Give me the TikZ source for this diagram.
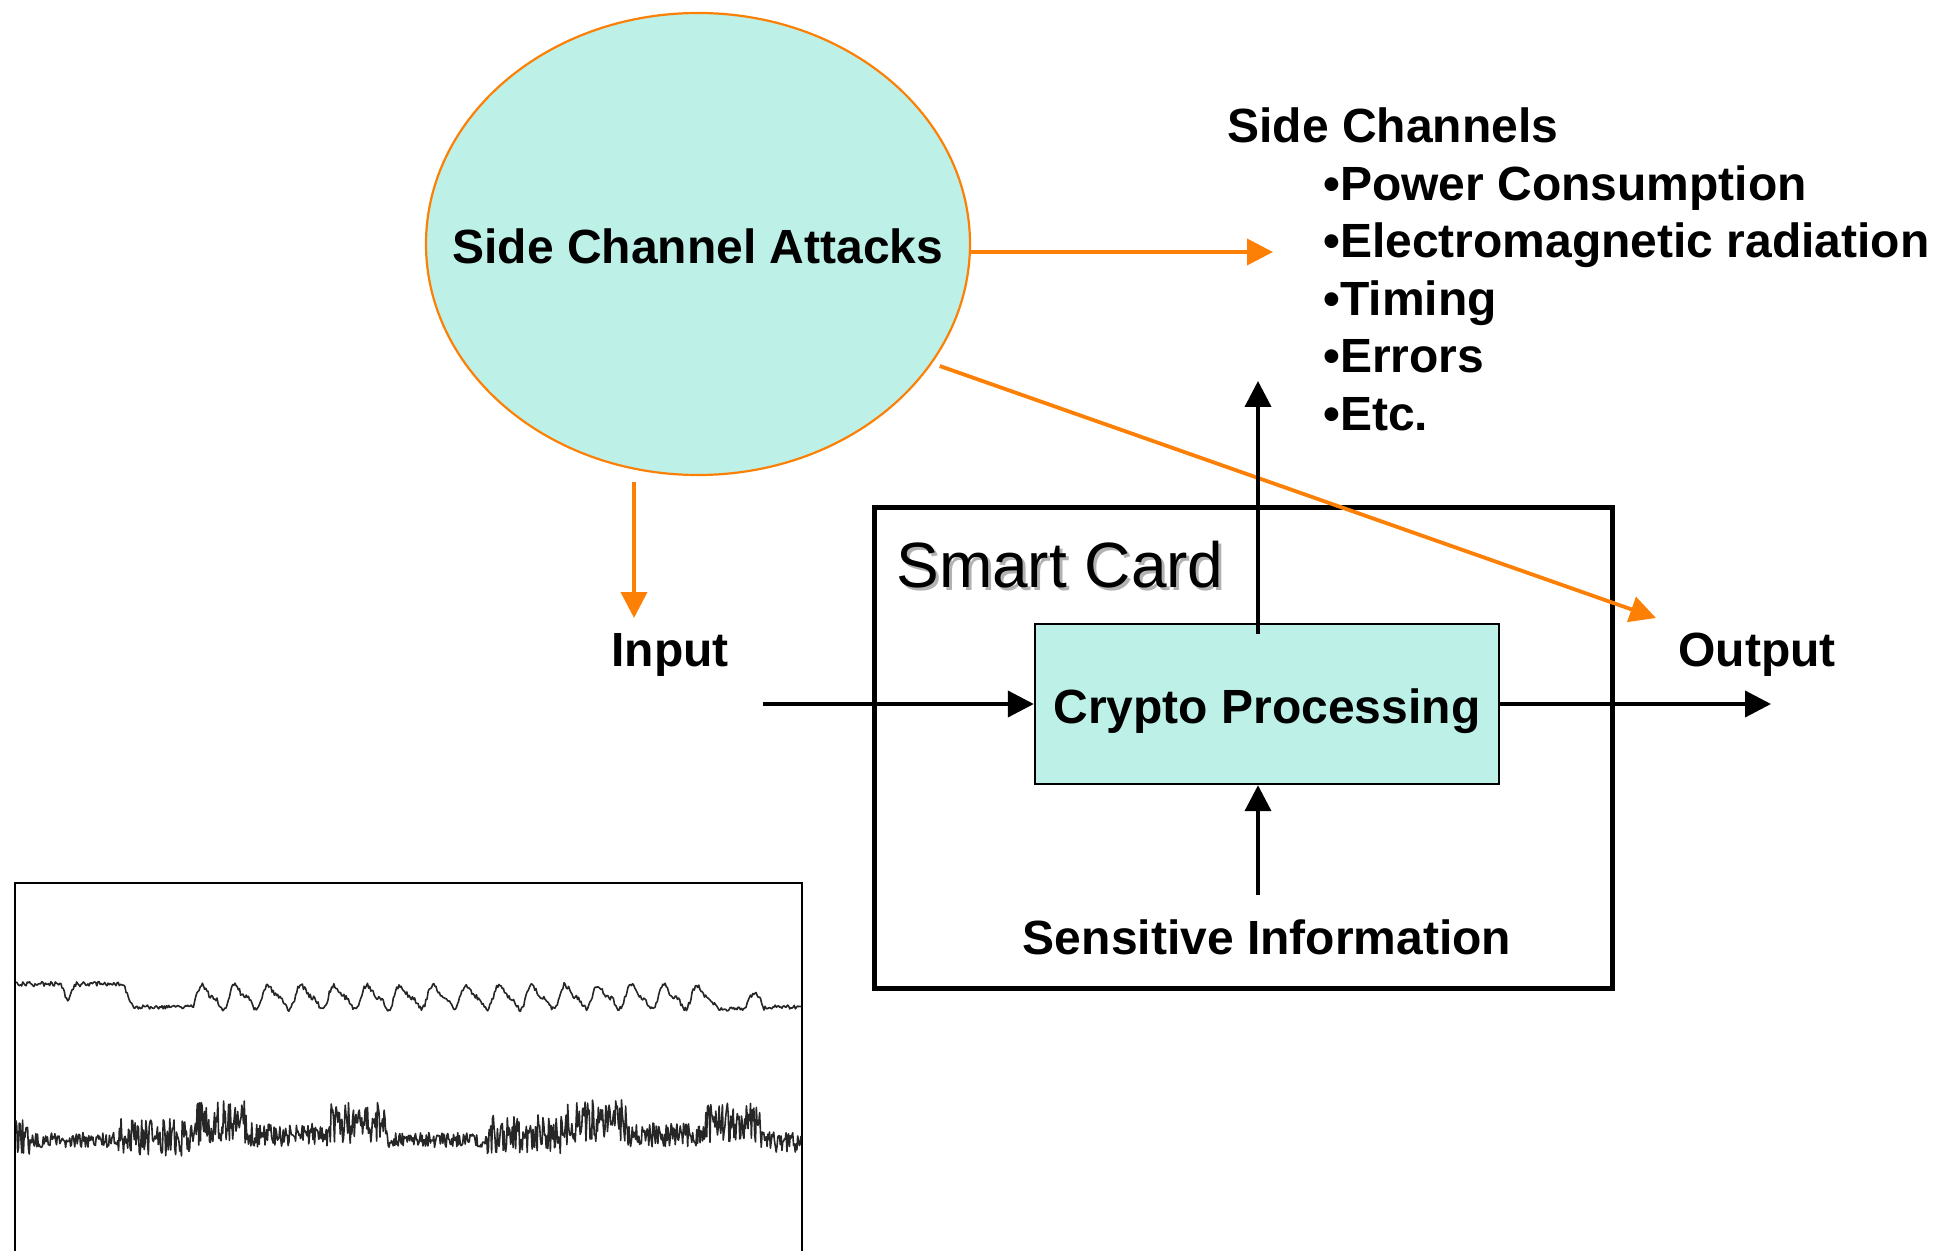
\documentclass[tikz,border=0pt]{standalone}
\usepackage{fontspec}
\setmainfont{Liberation Sans}
\usetikzlibrary{arrows.meta,shapes.geometric,calc}
\definecolor{attackorange}{HTML}{FC8005}
\definecolor{mint}{HTML}{BDF1E8}
\begin{document}
\begin{tikzpicture}[x=0.5pt,y=-0.5pt,
  lbl/.style={font=\fontsize{24}{29}\selectfont\bfseries, inner sep=0pt},
  blackarrow/.style={line width=2pt, -{Triangle[length=13pt,width=13pt]}},
  orangearrow/.style={draw=attackorange, line width=1.9pt,
    -{Triangle[length=13pt,width=13pt]}, attackorange},
  trace/.style={line width=0.8pt, black!85, line join=round},
  declare function={
    topw(\x) = (\x<123) ? (984 + 2.5*rand + 18*exp(-(((min(max(\x,50),86)-68)/4)^2)))
      : ((\x<133) ? (984 + 2.3*(\x-123) + 2*rand)
      : ((\x<192) ? (1007 + 2*rand)
      : ((\x<717) ? (997 - 10*sin((\x-192)*10.909 - 45) - 4*sin((\x-192)*21.818 - 90) + 2.5*rand)
      : ((\x<745) ? (1009 + 1.8*rand)
      : ((\x<764) ? (1008 - 15*sin((\x-745)*9.47) + 2.5*rand)
      : (1007 + 2*rand))))));
    bamp(\x) = (\x<30) ? 14 : ((\x<117) ? 5 : ((\x<197) ? 13 : ((\x<250) ? 15
      : ((\x<330) ? 8 : ((\x<387) ? 14 : ((\x<487) ? 5 : ((\x<567) ? 13
      : ((\x<627) ? 14 : ((\x<705) ? 8 : ((\x<760) ? 14 : 7))))))))));
    bcen(\x) = (\x<30) ? 1135 : ((\x<117) ? 1140 : ((\x<197) ? 1137 : ((\x<250) ? 1123
      : ((\x<330) ? 1135 : ((\x<387) ? 1123 : ((\x<487) ? 1140
      : ((\x<567) ? 1134 : ((\x<627) ? 1121 : ((\x<705) ? 1135
      : ((\x<760) ? 1123 : 1142))))))))));
  }]
\useasboundingbox (0,0) rectangle (1938,1251);

% attack ellipse and its title
\node[ellipse, draw=attackorange, line width=1.1pt, fill=mint, inner sep=0pt,
  minimum width=272pt, minimum height=231pt] (sca) at (698,244) {};
\node[lbl, anchor=base] (scalbl) at (698,264) {Side Channel Attacks};

% smart card with the crypto block
\node[draw, line width=2.5pt, minimum width=369pt, minimum height=240.5pt, inner sep=0pt]
  (card) at (1243,747.5) {};
\node[font=\fontsize{32}{38}\selectfont, anchor=base west, inner sep=0pt, text=black!30]
  at (899,590) {Smart Card};
\node[font=\fontsize{32}{38}\selectfont, anchor=base west, inner sep=0pt]
  (cardlbl) at (896,587) {Smart Card};
\node[draw, line width=1.2pt, fill=mint, minimum width=232pt, minimum height=80pt,
  inner sep=0pt] (crypto) at (1267,704) {};
\node[lbl, anchor=base] (cryptolbl) at (1267,723) {Crypto Processing};

% labels
\node[lbl, anchor=base] (input) at (670,666) {Input};
\node[lbl, anchor=base] (output) at (1757,666) {Output};
\node[lbl, anchor=base] (sens) at (1267,954) {Sensitive Information};

\node[lbl, anchor=base west] (chan0) at (1227,143) {Side Channels};
\node[lbl, anchor=base west] (chan1) at (1323,200.5) {•Power Consumption};
\node[lbl, anchor=base west] (chan2) at (1323,258) {•Electromagnetic radiation};
\node[lbl, anchor=base west] (chan3) at (1323,315.5) {•Timing};
\node[lbl, anchor=base west] (chan4) at (1323,373) {•Errors};
\node[lbl, anchor=base west] (chan5) at (1323,430.5) {•Etc.};

% connector end points
\coordinate (chanTip) at (1273,252);
\coordinate (inTip) at (634,618);
\coordinate (outTip) at (1656,618);
\coordinate (inStart) at (763,704);
\coordinate (outEnd) at (1771,704);
\coordinate (upTip) at (1258,381);
\coordinate (sensStart) at (1258,895);

% orange attack arrows
\draw[orangearrow] (sca.east |- chanTip) -- (chanTip);
\draw[orangearrow, shorten <=3pt] (inTip |- sca.south) -- (inTip);
\draw[orangearrow, shorten <=4pt] (sca.-27) -- (outTip);

% black data-flow arrows
\draw[blackarrow] (inStart) -- (crypto.west);
\draw[blackarrow] (crypto.east) -- (outEnd);
\draw[blackarrow] ($(upTip |- crypto.north)+(0,11)$) -- (upTip);
\draw[blackarrow] (sensStart) -- (sensStart |- crypto.south);

% power trace panel
\draw[line width=0.8pt] (15,1252) -- (15,883) -- (802,883) -- (802,1252);
\pgfmathsetseed{4217}
\draw[trace] plot[domain=16:801, samples=700, variable=\x] (\x, {topw(\x)});
\draw[trace] plot[domain=16:801, samples=950, variable=\x] (\x, {bcen(\x) + 1.5*bamp(\x)*rand});
\end{tikzpicture}
\end{document}
